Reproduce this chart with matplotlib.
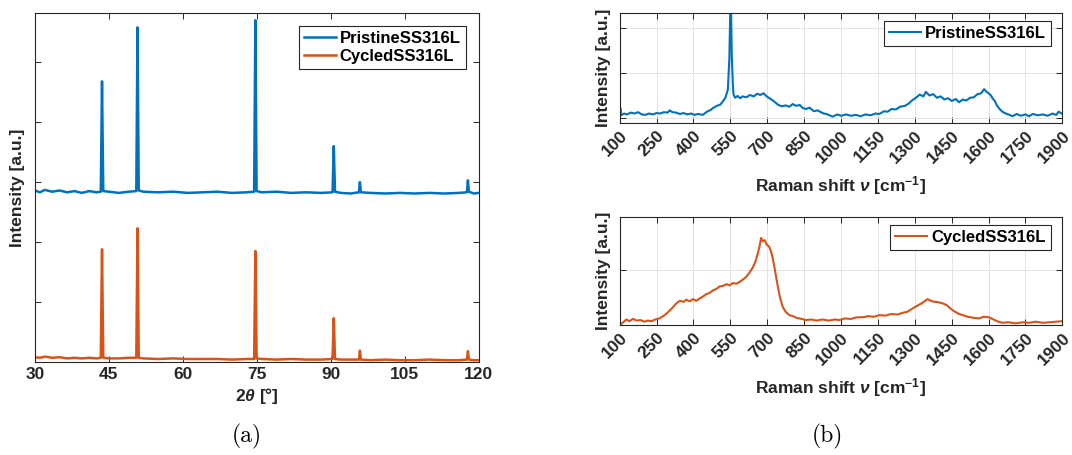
import matplotlib
matplotlib.use("Agg")
import matplotlib.pyplot as plt

plt.rcParams['font.family'] = ['Liberation Sans', 'DejaVu Sans']
plt.rcParams['font.weight'] = 'bold'
plt.rcParams['mathtext.fontset'] = 'custom'
plt.rcParams['mathtext.rm'] = 'Liberation Sans:bold'
plt.rcParams['mathtext.it'] = 'Liberation Sans:italic:bold'
plt.rcParams['mathtext.bf'] = 'Liberation Sans:bold'

BLUE = '#0072BD'
ORANGE = '#D95319'
TXT = '#262626'

# ---- XRD data (a) ----
xrd_2theta_pristine = [30, 31, 32, 33.5, 35, 36.5, 38, 39.5, 41, 42.5, 43.35, 43.6, 43.85,
                       45, 47, 49, 50.55, 50.8, 51.05, 52, 55, 58, 61, 64, 67, 70, 73, 74.45,
                       74.7, 74.95, 76, 79, 82, 85, 88, 90.35, 90.6, 90.85, 92, 94, 95.7, 95.9,
                       96.1, 98, 101, 104, 107, 110, 113, 116, 117.6, 117.8, 118.0, 119, 120]
xrd_int_pristine = [2.86, 2.83, 2.87, 2.84, 2.86, 2.83, 2.85, 2.82, 2.85, 2.83, 2.84, 4.68, 2.85,
                    2.84, 2.82, 2.84, 2.85, 5.58, 2.86, 2.84, 2.83, 2.84, 2.82, 2.83, 2.84, 2.82, 2.83, 2.84,
                    5.70, 2.85, 2.83, 2.84, 2.82, 2.83, 2.82, 2.83, 3.60, 2.84, 2.82, 2.81, 2.83, 3.00,
                    2.83, 2.82, 2.81, 2.82, 2.81, 2.82, 2.81, 2.82, 2.83, 3.03, 2.84, 2.81, 2.82]

xrd_2theta_cycled = [30, 31, 32, 33.5, 35, 36.5, 38, 39.5, 41, 42.5, 43.35, 43.6, 43.85,
                     45, 47, 49, 50.55, 50.8, 51.05, 52, 55, 58, 61, 64, 67, 70, 73, 74.45,
                     74.7, 74.95, 76, 79, 82, 85, 88, 90.35, 90.6, 90.85, 92, 94, 95.7, 95.9,
                     96.1, 98, 101, 104, 107, 110, 113, 116, 117.6, 117.8, 118.0, 119, 120]
xrd_int_cycled = [0.08, 0.07, 0.09, 0.07, 0.08, 0.06, 0.07, 0.06, 0.07, 0.06, 0.07, 1.88, 0.07,
                  0.06, 0.06, 0.07, 0.07, 2.23, 0.07, 0.06, 0.05, 0.06, 0.05, 0.05, 0.05, 0.04, 0.05, 0.05,
                  1.85, 0.06, 0.05, 0.04, 0.05, 0.04, 0.04, 0.05, 0.73, 0.05, 0.04, 0.04, 0.04, 0.19,
                  0.04, 0.03, 0.04, 0.03, 0.03, 0.04, 0.03, 0.03, 0.04, 0.18, 0.04, 0.03, 0.03]

# ---- Raman data (b) ----
raman_shift_pristine = [100, 103, 106, 118, 130, 145, 160, 175, 190, 205, 220, 235, 250, 265, 280,
                        295, 303, 315, 330, 345, 360, 375, 390, 405, 420, 438, 455, 470, 479, 495,
                        510, 520, 530, 540, 546, 550, 553, 556, 560, 563, 570, 580, 590, 600, 615,
                        630, 645, 660, 672, 685, 700, 715, 730, 745, 760, 775, 790, 804, 818, 832,
                        845, 858, 872, 890, 905, 925, 945, 966, 985, 1000, 1020, 1040, 1060, 1080,
                        1100, 1120, 1140, 1156, 1175, 1190, 1205, 1223, 1240, 1260, 1275, 1291,
                        1305, 1320, 1335, 1345, 1360, 1375, 1390, 1405, 1420, 1435, 1450, 1467,
                        1480, 1495, 1510, 1525, 1540, 1555, 1570, 1582, 1592, 1600, 1610, 1616,
                        1625, 1635, 1645, 1656, 1670, 1685, 1697, 1715, 1730, 1750, 1765, 1780,
                        1800, 1820, 1840, 1860, 1875, 1885, 1900]
raman_int_pristine = [0.02, 0.22, 0.06, 0.10, 0.08, 0.12, 0.10, 0.13, 0.08, 0.07, 0.10, 0.08, 0.11, 0.10, 0.13,
                      0.12, 0.17, 0.13, 0.12, 0.09, 0.11, 0.08, 0.10, 0.07, 0.09, 0.07, 0.14, 0.18, 0.22, 0.27,
                      0.30, 0.37, 0.45, 0.63, 1.30, 2.40, 2.40, 1.40, 0.80, 0.52, 0.45, 0.49, 0.44, 0.48, 0.46,
                      0.51, 0.48, 0.54, 0.51, 0.55, 0.47, 0.42, 0.36, 0.29, 0.26, 0.28, 0.25, 0.31, 0.27, 0.29,
                      0.22, 0.20, 0.23, 0.15, 0.17, 0.11, 0.08, 0.03, 0.08, 0.05, 0.08, 0.05, 0.07, 0.04,
                      0.08, 0.06, 0.10, 0.09, 0.15, 0.14, 0.20, 0.19, 0.25, 0.27, 0.32, 0.40,
                      0.45, 0.52, 0.48, 0.58, 0.50, 0.53, 0.45, 0.48, 0.41, 0.44, 0.38, 0.42,
                      0.35, 0.41, 0.39, 0.45, 0.46, 0.53, 0.55, 0.64, 0.58, 0.55, 0.50, 0.44,
                      0.38, 0.27, 0.20, 0.14, 0.10, 0.07, 0.04, 0.09, 0.05, 0.08, 0.04, 0.09,
                      0.06, 0.08, 0.05, 0.10, 0.07, 0.14, 0.09]

raman_shift_cycled = [100, 115, 127, 140, 154, 170, 185, 200, 215, 230, 245, 262, 280, 296, 312,
                      330, 345, 360, 371, 385, 398, 412, 425, 440, 452, 465, 480, 495, 506, 520,
                      535, 547, 560, 575, 587, 600, 614, 628, 641, 652, 662, 670, 675, 682, 690,
                      698, 708, 716, 722, 729, 736, 743, 752, 763, 775, 790, 805, 820, 840, 858,
                      880, 900, 925, 950, 975, 993, 1015, 1040, 1065, 1088, 1110, 1135, 1156, 1180,
                      1205, 1230, 1250, 1270, 1291, 1310, 1330, 1352, 1370, 1385, 1399, 1415, 1430,
                      1445, 1460, 1480, 1494, 1515, 1540, 1562, 1580, 1602, 1620, 1640, 1656, 1680,
                      1710, 1740, 1765, 1790, 1820, 1850, 1875, 1900]
raman_int_cycled = [0.00, 0.05, 0.10, 0.07, 0.11, 0.08, 0.09, 0.06, 0.08, 0.07, 0.10, 0.12, 0.17, 0.23, 0.30,
                    0.39, 0.44, 0.42, 0.46, 0.43, 0.47, 0.44, 0.48, 0.52, 0.56, 0.58, 0.63, 0.66, 0.70, 0.71,
                    0.74, 0.72, 0.76, 0.75, 0.78, 0.82, 0.87, 0.95, 1.04, 1.15, 1.30, 1.45, 1.58, 1.52, 1.54,
                    1.46, 1.42, 1.33, 1.22, 1.06, 0.88, 0.70, 0.50, 0.33, 0.24, 0.18, 0.16, 0.13, 0.11, 0.09,
                    0.10, 0.08, 0.10, 0.08, 0.10, 0.09, 0.12, 0.11, 0.14, 0.14, 0.16, 0.15, 0.18, 0.17,
                    0.20, 0.19, 0.22, 0.24, 0.30, 0.35, 0.40, 0.47, 0.43, 0.42, 0.41, 0.39, 0.36,
                    0.30, 0.25, 0.20, 0.18, 0.15, 0.13, 0.12, 0.15, 0.14, 0.10, 0.06, 0.04, 0.05,
                    0.03, 0.05, 0.04, 0.06, 0.04, 0.05, 0.06, 0.07]

xrd_ticks = [30, 45, 60, 75, 90, 105, 120]
raman_ticks = list(range(100, 1901, 150))

FS = 12.5


def style_axes(ax):
    ax.tick_params(direction='in', top=True, right=True, length=4, width=0.7,
                   colors=TXT, labelsize=FS)
    for sp in ax.spines.values():
        sp.set_color(TXT)
        sp.set_linewidth(0.8)


def add_legend(ax, **kw):
    leg = ax.legend(loc='upper right', fancybox=False, edgecolor=TXT, framealpha=1,
                    prop={'weight': 'bold', 'size': 12}, handlelength=1.9,
                    borderpad=0.3, labelspacing=0.2, handletextpad=0.25,
                    borderaxespad=0.3, **kw)
    leg.get_frame().set_linewidth(0.8)
    return leg


fig = plt.figure(figsize=(10.72, 4.55), dpi=100)

# (a) XRD
ax1 = fig.add_axes([0.0326, 0.2044, 0.414, 0.767])
ax1.plot(xrd_2theta_pristine, xrd_int_pristine, color=BLUE, lw=1.8, label='PristineSS316L')
ax1.plot(xrd_2theta_cycled, xrd_int_cycled, color=ORANGE, lw=1.8, label='CycledSS316L')
ax1.set_xlim(30, 120)
ax1.set_ylim(0, 5.82)
ax1.set_xticks(xrd_ticks)
ax1.set_yticks([0, 1, 2, 3, 4, 5])
ax1.set_yticklabels([])
ax1.set_xlabel(r'2$\theta$ [°]', fontsize=FS, fontweight='bold', color=TXT, labelpad=3)
ax1.set_ylabel('Intensity [a.u.]', fontsize=FS, fontweight='bold', color=TXT, labelpad=4)
style_axes(ax1)
add_legend(ax1, bbox_to_anchor=(0.982, 0.978))

# (b) Raman, pristine
ax2 = fig.add_axes([0.578, 0.7297, 0.413, 0.2418])
ax2.plot(raman_shift_pristine, raman_int_pristine, color=BLUE, lw=1.5, label='PristineSS316L')
ax2.set_xlim(100, 1900)
ax2.set_ylim(-0.11, 2.33)
ax2.set_yticks([0, 1, 2])

# (b) Raman, cycled
ax3 = fig.add_axes([0.578, 0.2857, 0.413, 0.2374])
ax3.plot(raman_shift_cycled, raman_int_cycled, color=ORANGE, lw=1.5, label='CycledSS316L')
ax3.set_xlim(100, 1900)
ax3.set_ylim(0, 1.96)
ax3.set_yticks([0, 1])

for ax in (ax2, ax3):
    ax.set_xticks(raman_ticks)
    ax.set_yticklabels([])
    plt.setp(ax.get_xticklabels(), rotation=45, ha='right', rotation_mode='anchor')
    ax.grid(True, color='#e3e3e3', lw=0.7)
    ax.set_axisbelow(True)
    ax.set_xlabel(r'Raman shift $\nu$ [cm$^{-1}$]', fontsize=FS, fontweight='bold',
                  color=TXT, labelpad=6)
    ax.set_ylabel('Intensity [a.u.]', fontsize=FS, fontweight='bold', color=TXT, labelpad=3)
    style_axes(ax)
    add_legend(ax, bbox_to_anchor=(0.985, 0.975))

fig.text(0.2304, 0.04, '(a)', family='cmr10', fontsize=17, ha='center', va='center')
fig.text(0.772, 0.04, '(b)', family='cmr10', fontsize=17, ha='center', va='center')

fig.savefig('out.png', dpi=100)
